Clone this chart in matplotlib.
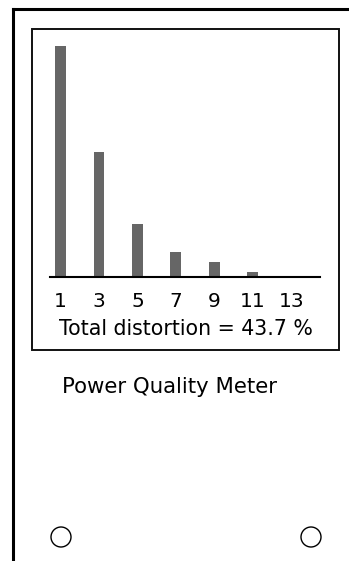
import numpy as np
import matplotlib
matplotlib.use("Agg")
import matplotlib.pyplot as plt
from matplotlib.patches import Rectangle, Circle

# harmonic spectrum, % of fundamental
harmonics = [1, 3, 5, 7, 9, 11, 13]
levels = [100, 54, 23, 10.7, 6.5, 2.2, 0]
tick_labels = ["1", "3", "5", "7", "9", "11", "13"]
total_text = "Total distortion = 43.7 %"
title_text = "Power Quality Meter"

W, H = 349, 561
plt.rcParams['font.family'] = ['DejaVu Sans']
fig = plt.figure(figsize=(W / 100, H / 100), dpi=100)

# overlay axes in pixel units for the panel drawing
bg = fig.add_axes([0, 0, 1, 1])
bg.set_xlim(0, W)
bg.set_ylim(H, 0)
bg.axis("off")

# outer frame (only top and left edges visible)
bg.plot([12.5, W + 5], [8.5, 8.5], color="black", lw=2.2, solid_capstyle="projecting")
bg.plot([12.5, 12.5], [8.5, H + 5], color="black", lw=2.2, solid_capstyle="projecting")

# display box
bg.add_patch(Rectangle((31.5, 28.5), 307, 321.5, fill=False, ec="#111111", lw=1.4))

# mounting holes
for cx in (61, 311):
    bg.add_patch(Circle((cx, 537), 10, fill=False, ec="black", lw=1.0))

bg.text(186, 334.5, total_text, ha="center", va="baseline", fontsize=14.8)
bg.text(62, 392.5, title_text, ha="left", va="baseline", fontsize=15.3)

# bar chart
ax = fig.add_axes([50 / W, (H - 277) / H, 270 / W, 231 / H])
ax.patch.set_alpha(0)
ax.bar(harmonics, levels, width=0.572, color="#666666", zorder=2)
ax.set_xlim(0.45, 14.5)
ax.set_ylim(0, 100)
for s in ("top", "left", "right"):
    ax.spines[s].set_visible(False)
ax.spines["bottom"].set_linewidth(1.5)
ax.set_yticks([])
ax.set_xticks(harmonics)
ax.set_xticklabels([])
ax.tick_params(axis="x", length=0)
for h, lab in zip(harmonics, tick_labels):
    ax.text(h, -0.1286, lab, transform=ax.get_xaxis_transform(),
            ha="center", va="baseline", fontsize=14.5)

fig.savefig("out.png", dpi=100)
